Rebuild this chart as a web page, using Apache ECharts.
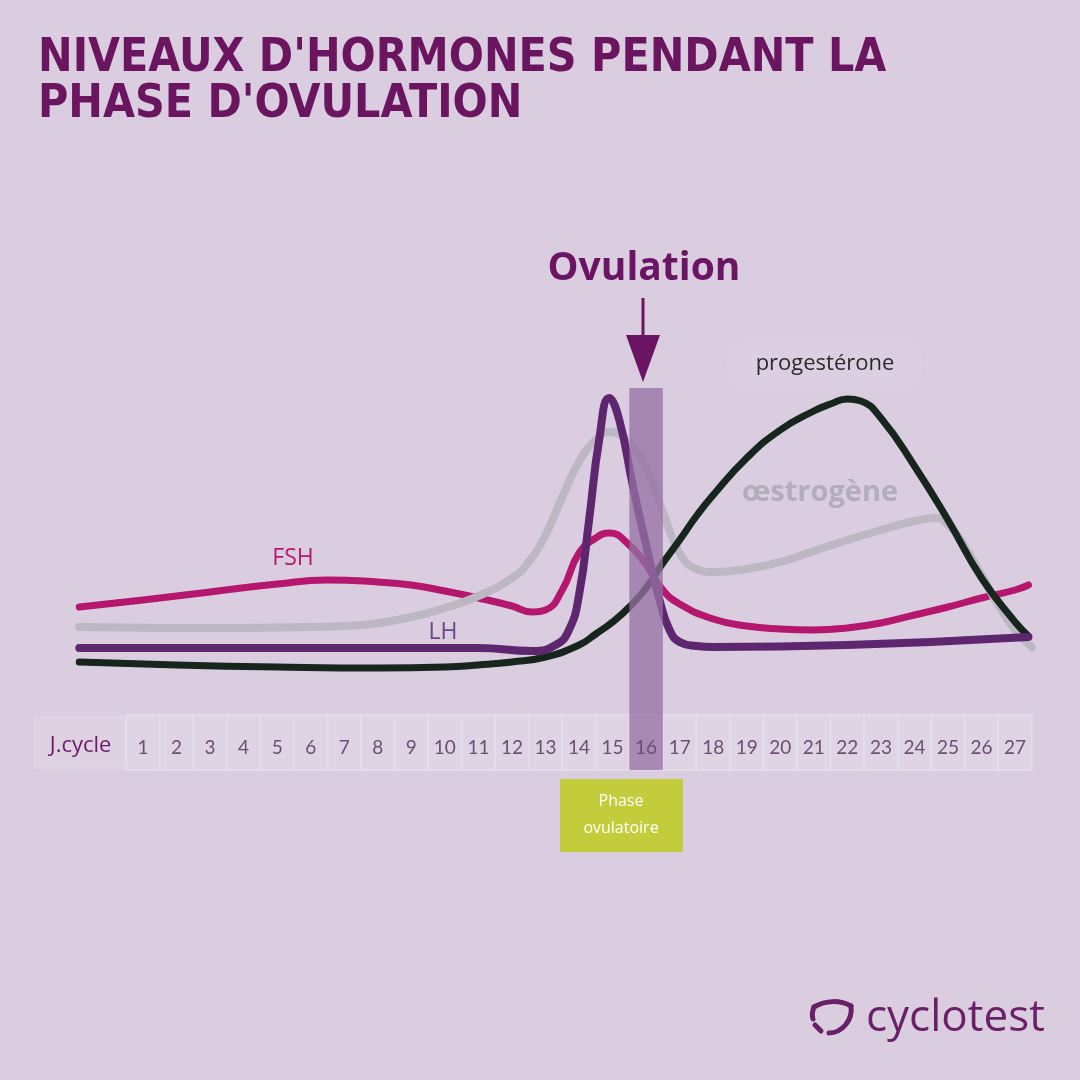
<!DOCTYPE html>
<html>
<head>
<meta charset="utf-8">
<script src="https://cdn.jsdelivr.net/npm/echarts@6/dist/echarts.min.js"></script>
<style>html,body{margin:0;padding:0;background:#dacde0;}#c{width:1080px;height:1080px;}</style>
</head>
<body>
<div id="c"></div>
<script>
// ---- data ----
const dayLabels = [1,2,3,4,5,6,7,8,9,10,11,12,13,14,15,16,17,18,19,20,21,22,23,24,25,26,27];
const ovulationDay = 16;
const fshData = [[-0.9,20.75],[1,22.5],[3,24.5],[5,26.5],[6.5,27.5],[8,27],[9,26.25],[10,24.75],[11,23],[12,21],[12.6,19.5],[13,20],[13.5,25],[14,34.25],[14.5,38],[14.9,39.25],[15.5,36.25],[16,31.25],[16.5,25],[17,21.5],[18,17.75],[19,16],[20,15.25],[21,15],[22,15.5],[23,16.75],[24,18.75],[25,20.75],[26,23],[27,25],[27.4,26.25]];
const lhData = [[-0.9,10.5],[3,10.5],[7,10.5],[11,10.5],[12.6,9.75],[13.3,11.25],[13.7,15],[14,23.75],[14.3,42.5],[14.6,62.5],[14.9,73],[15.2,67.5],[15.6,51.25],[16,36.25],[16.4,22.5],[16.7,15],[17,12],[17.5,11],[18,10.75],[22,11.25],[27.4,13.25]];
const estrogenData = [[-0.9,15.75],[3,15.5],[6,15.75],[7.5,16.25],[9,18.25],[10,20.5],[11,23.5],[12,28],[12.5,32],[13,38.75],[13.5,48.25],[14,57],[14.5,62.5],[14.9,64.5],[15.4,62.5],[16,55.5],[16.5,44.5],[17,34.25],[17.5,30.25],[18,29.5],[19,30.25],[20,32],[21,34.75],[22,37.5],[23,40],[24,42.25],[24.6,43],[25.1,40.5],[25.6,34.5],[26,28.75],[26.5,21.25],[27,15],[27.5,10.75]];
const progesteroneData = [[-0.9,7],[2,6.25],[5,5.75],[8,5.5],[10,5.75],[11,6.25],[12,7],[13,8.25],[14,11.25],[14.5,14],[15,17],[15.5,20.75],[16,25.5],[16.5,31.75],[17,37.5],[17.5,43.5],[18,48.75],[19,58],[20,65],[21,69.75],[21.5,71.5],[22,72.75],[22.4,72.25],[23,68],[24,56],[25,42.5],[26,28],[27,17],[27.4,13.5]];

// ---- layout constants ----
const Y_MIN = -20, Y_MAX = 100;
const STRIP_TOP = -6.25, STRIP_BOT = -20, LABEL_Y = -14.5, BAND_TOP = 75.5;
const HEADER_LEFT = -2.22;

const chart = echarts.init(document.getElementById('c'), null, {renderer:'canvas'});

function lineSeries(name, data, color, z, width) {
  return {
    name, type:'line', data, z, smooth:0.5, showSymbol:false, silent:true,
    lineStyle:{color, width:width||7, cap:'round', join:'round'}
  };
}

const option = {
  backgroundColor:'#dacde0',
  animation:false,
  grid:{left:25.6, right:31.4, top:290, bottom:310},
  xAxis:{type:'value', min:-2.5, max:28, show:false},
  yAxis:{type:'value', min:Y_MIN, max:Y_MAX, show:false},
  series:[
    {
      type:'custom', z:1, silent:true,
      data: dayLabels.map(d=>[d]),
      renderItem:function(params, api){
        const d = api.value(0);
        const p1 = api.coord([d-0.5, STRIP_TOP]);
        const p2 = api.coord([d+0.5, STRIP_BOT]);
        const children = [{
          type:'rect', shape:{x:p1[0], y:p1[1], width:p2[0]-p1[0], height:p2[1]-p1[1]},
          style:{fill:'#dfd4e4', stroke:'#e6dee9', lineWidth:1.5}
        }];
        if (params.dataIndex === 0) {
          const h1 = api.coord([HEADER_LEFT, STRIP_TOP - 0.5]);
          const h2 = api.coord([d-0.5, STRIP_BOT + 0.5]);
          children.unshift({
            type:'rect', shape:{x:h1[0], y:h1[1], width:h2[0]-h1[0], height:h2[1]-h1[1]},
            style:{fill:'#ddd1e2', stroke:'#e3dae6', lineWidth:1}
          });
          const hc = api.coord([(HEADER_LEFT + d - 0.5)/2, LABEL_Y + 0.5]);
          children.push({
            type:'text', x:hc[0], y:hc[1],
            style:{text:'J.cycle', fill:'#6b1a6a', font:'22px "Open Sans"', align:'center', verticalAlign:'middle'}
          });
        }
        return {type:'group', children};
      }
    },
    lineSeries('FSH', fshData, '#b5176f', 2, 7),
    lineSeries('œstrogène', estrogenData, '#bdb7c3', 3, 8),
    lineSeries('progestérone', progesteroneData, '#17261c', 4, 7),
    lineSeries('LH', lhData, '#5f2670', 5, 8),
    {
      type:'custom', z:8, silent:true,
      data:[[ovulationDay]],
      renderItem:function(params, api){
        const d = api.value(0);
        const p1 = api.coord([d-0.5, BAND_TOP]);
        const p2 = api.coord([d+0.5, STRIP_BOT]);
        return {type:'rect', shape:{x:p1[0], y:p1[1], width:p2[0]-p1[0], height:p2[1]-p1[1]},
          style:{fill:'rgba(150,113,163,0.76)'}};
      }
    },
    {
      type:'custom', z:9, silent:true,
      data: dayLabels.map(d=>[d]),
      renderItem:function(params, api){
        const d = api.value(0);
        const c = api.coord([d, LABEL_Y]);
        return {type:'text', x:c[0], y:c[1],
          style:{text:String(d), fill:'#6a4f73', font:'19px Lato', align:'center', verticalAlign:'middle'}};
      }
    }
  ],
  graphic:[
    {type:'text', x:38, y:36, z:20, style:{text:"NIVEAUX D'HORMONES PENDANT LA\nPHASE D'OVULATION", fill:'#6b1460', font:'bold 46px "DejaVu Sans Condensed"', lineHeight:46}},
    {type:'text', x:644, y:269, z:20, style:{text:'Ovulation', fill:'#6b1464', font:'bold 39px "Open Sans"', align:'center', verticalAlign:'middle'}},
    {type:'line', z:20, shape:{x1:643, y1:298, x2:643, y2:340}, style:{stroke:'#6b1464', lineWidth:3}},
    {type:'polygon', z:20, shape:{points:[[626,335],[660,335],[643,382]]}, style:{fill:'#6b1464'}},
    {type:'rect', z:19, shape:{x:727, y:338, width:196, height:52, r:26}, style:{fill:'rgba(255,255,255,0.06)'}},
    {type:'text', x:825, y:364, z:20, style:{text:'progestérone', fill:'#2b2b2b', font:'22px "Open Sans"', align:'center', verticalAlign:'middle'}},
    {type:'text', x:820, y:493, z:20, style:{text:'œstrogène', fill:'#b3acba', font:'bold 29px "Open Sans"', align:'center', verticalAlign:'middle'}},
    {type:'text', x:293, y:558, z:20, style:{text:'FSH', fill:'#b5186f', font:'23px "Open Sans"', align:'center', verticalAlign:'middle'}},
    {type:'text', x:443, y:632, z:20, style:{text:'LH', fill:'#6e4480', font:'23px "Open Sans"', align:'center', verticalAlign:'middle'}},
    {type:'rect', z:20, shape:{x:560, y:779, width:123, height:73}, style:{fill:'#c3cc3b'}},
    {type:'text', x:621, y:801, z:21, style:{text:'Phase', fill:'#ffffff', font:'16px "Open Sans"', align:'center', verticalAlign:'middle'}},
    {type:'text', x:621, y:828, z:21, style:{text:'ovulatoire', fill:'#ffffff', font:'16px "Open Sans"', align:'center', verticalAlign:'middle'}},
    {type:'bezierCurve', z:20, shape:{x1:814, y1:1007, cpx1:826, cpy1:1000, cpx2:840, cpy2:1000, x2:851, y2:1006}, style:{stroke:'#6b1f66', lineWidth:5, fill:null, lineCap:'round'}},
    {type:'bezierCurve', z:20, shape:{x1:851, y1:1006, cpx1:853, cpy1:1020, cpx2:842, cpy2:1033, x2:829, y2:1033}, style:{stroke:'#6b1f66', lineWidth:5, fill:null, lineCap:'round'}},
    {type:'bezierCurve', z:20, shape:{x1:814, y1:1007, cpx1:812, cpy1:1012, cpx2:812, cpy2:1016, x2:813, y2:1019}, style:{stroke:'#6b1f66', lineWidth:5, fill:null, lineCap:'round'}},
    {type:'line', z:20, shape:{x1:815, y1:1025, x2:821, y2:1031}, style:{stroke:'#6b1f66', lineWidth:5, lineCap:'round'}},
    {type:'text', x:866, y:1018, z:20, style:{text:'cyclotest', fill:'#6b1f66', font:'44px "Open Sans"', align:'left', verticalAlign:'middle'}}
  ]
};
chart.setOption(option);
</script>
</body>
</html>
